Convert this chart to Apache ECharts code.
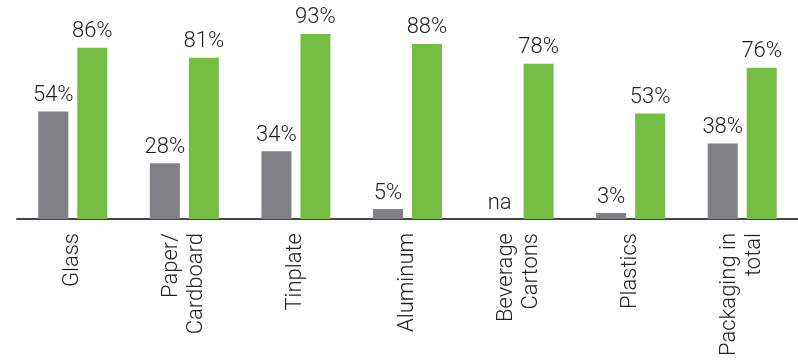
<!DOCTYPE html>
<html>
<head>
<meta charset="utf-8">
<script src="https://cdn.jsdelivr.net/npm/echarts@6/dist/echarts.min.js"></script>
<style>
  html, body { margin: 0; padding: 0; background: #fff; }
  #recycling_chart { width: 798px; height: 360px; }
</style>
</head>
<body>
<div id="recycling_chart"></div>
<script>
var categories = ['Glass', 'Paper/\nCardboard', 'Tinplate', 'Aluminum', 'Beverage\nCartons', 'Plastics', 'Packaging in\ntotal'];
var grey_values = [54, 28, 34, 5, null, 3, 38];
var green_values = [86, 81, 93, 88, 78, 53, 76];

function pct_label(p) {
    return p.value == null || p.value === 0 ? 'na' : p.value + '%';
}

recycling_option = {
    animation: false,
    textStyle: {
        fontFamily: 'Roboto'
    },
    grid: {
        left: 17,
        top: 20,
        width: 787,
        bottom: 141,
        containLabel: false
    },
    xAxis: {
        type: 'category',
        data: categories,
        axisLine: {
            lineStyle: { color: '#444', width: 2 }
        },
        axisTick: { show: false },
        axisLabel: {
            rotate: 90,
            interval: 0,
            margin: 14,
            fontSize: 22,
            fontWeight: 300,
            lineHeight: 25,
            color: '#222'
        }
    },
    yAxis: {
        type: 'value',
        min: 0,
        max: 100,
        show: false
    },
    series: [
        {
            name: 'grey',
            type: 'bar',
            barWidth: 30,
            barGap: '30%',
            data: grey_values.map(function (v) { return v == null ? 0 : v; }),
            itemStyle: { color: 'rgb(129,129,133)' },
            label: {
                show: true,
                position: 'top',
                distance: 5,
                fontSize: 22,
                fontWeight: 300,
                color: '#222',
                formatter: pct_label
            }
        },
        {
            name: 'green',
            type: 'bar',
            barWidth: 30,
            data: green_values,
            itemStyle: { color: 'rgb(116,190,68)' },
            label: {
                show: true,
                position: 'top',
                distance: 5,
                fontSize: 22,
                fontWeight: 300,
                color: '#222',
                formatter: pct_label
            }
        }
    ]
};

var recycling_chart = echarts.init(document.getElementById('recycling_chart'));
recycling_chart.setOption(recycling_option);
</script>
</body>
</html>
